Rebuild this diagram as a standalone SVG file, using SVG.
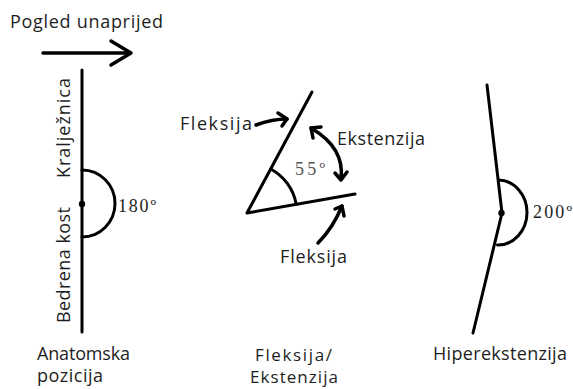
<svg xmlns="http://www.w3.org/2000/svg" width="573" height="389" viewBox="0 0 573 389">
<style>
.t{font-family:"Open Sans","Liberation Sans",sans-serif;font-size:18px;fill:#1e1e1e}
.s{font-family:"Liberation Serif","Times New Roman",serif;font-size:18px;fill:#1e1e1e}
.ln{stroke:#000;stroke-width:3;fill:none;stroke-linecap:round;stroke-linejoin:round}
.ar{stroke:#000;stroke-width:3.5;fill:none;stroke-linecap:round;stroke-linejoin:round}
</style>
<rect width="573" height="389" fill="#fff"/>
<g id="title">
<text class="t" x="10" y="28" textLength="153" lengthAdjust="spacing">Pogled unaprijed</text>
<path class="ar" d="M43,53 H129" stroke-width="4.5"/>
<path class="ar" d="M111,41 L131,53 L111,65" stroke-width="4.5"/>
</g>
<g id="anatomska">
<path class="ln" d="M82,70 V332"/>
<path class="ln" d="M82,170 A33,33.5 0 0 1 82,237"/>
<circle cx="82" cy="204" r="3.2" fill="#000"/>
<text class="t" transform="translate(70,178) rotate(-90)" textLength="100" lengthAdjust="spacing">Kralježnica</text>
<text class="t" transform="translate(70,323) rotate(-90)" textLength="116" lengthAdjust="spacing">Bedrena kost</text>
<text class="s" x="118" y="212" textLength="38" lengthAdjust="spacing">180º</text>
<text class="t" x="37" y="360" textLength="93" lengthAdjust="spacing">Anatomska</text>
<text class="t" x="37" y="382" textLength="66" lengthAdjust="spacing">pozicija</text>
</g>
<g id="fleksija">
<path class="ln" d="M312,92 L247,213 L355,194"/>
<path class="ln" d="M270.7,169 A50,50 0 0 1 296.2,204.3"/>
<text class="s" x="295" y="175" style="fill:#555" textLength="30" lengthAdjust="spacing">55º</text>
<text class="t" x="180" y="130" textLength="72" lengthAdjust="spacing">Fleksija</text>
<text class="t" x="337" y="145" textLength="88" lengthAdjust="spacing">Ekstenzija</text>
<text class="t" x="280" y="263" textLength="67" lengthAdjust="spacing">Fleksija</text>
<text class="t" x="255" y="361" style="font-size:17px" textLength="77" lengthAdjust="spacing">Fleksija/</text>
<text class="t" x="250" y="383" style="font-size:17px" textLength="88" lengthAdjust="spacing">Ekstenzija</text>
</g>
<g id="hiperekstenzija">
<path class="ln" d="M487,85 L502,213 L473,333"/>
<path class="ln" d="M498.5,180 A29,32.5 0 0 1 497.5,245"/>
<circle cx="501.5" cy="213" r="3.2" fill="#000"/>
<text class="s" x="533" y="218" textLength="39" lengthAdjust="spacing">200º</text>
<text class="t" x="433" y="360" textLength="134" lengthAdjust="spacing">Hiperekstenzija</text>
</g>
<g id="connectors">
<path class="ar" d="M256,125 Q272,119 287,119"/>
<path class="ar" d="M278,113 L287,119 L282,126"/>
<path class="ar" d="M311,128 Q345,148 341,179"/>
<path class="ar" d="M311,128 L321,127 M311,128 L313,138"/>
<path class="ar" d="M335,173 L341,180 L347,172"/>
<path class="ar" d="M318,243 Q333,228 342,206"/>
<path class="ar" d="M335,209 L342,206 L344,216"/>
</g>
</svg>
